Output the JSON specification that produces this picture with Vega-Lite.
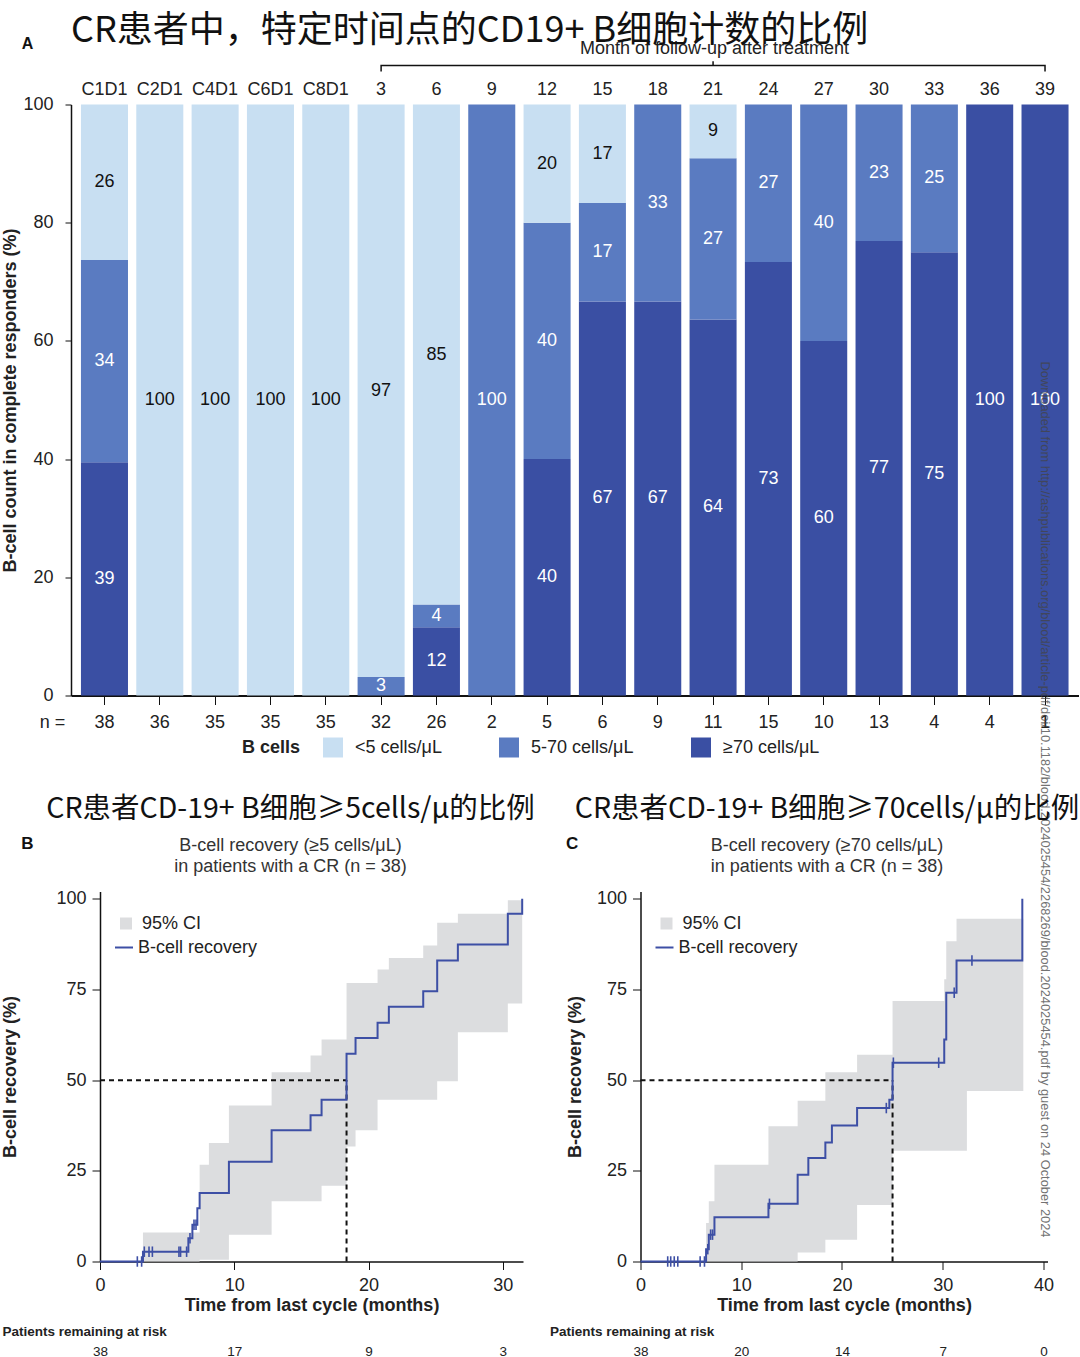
{
  "$schema": "https://vega.github.io/schema/vega-lite/v6.json",
  "background": "white",
  "padding": {"left": 1, "top": 12.5, "right": 0, "bottom": 0},
  "config": {
    "view": {"stroke": null},
    "font": "Liberation Sans",
    "axis": {"grid": false, "labelFont": "Liberation Sans", "titleFont": "Liberation Sans", "labelColor": "#222", "titleColor": "#222", "domainColor": "#111", "tickColor": "#111", "labelFontSize": 18, "titleFontSize": 18},
    "legend": {"labelFont": "Liberation Sans", "titleFont": "Liberation Sans", "labelFontSize": 18, "titleFontSize": 18, "labelColor": "#222", "titleColor": "#222", "padding": 0},
    "title": {"font": "Noto Sans CJK SC", "fontWeight": "normal", "color": "#111"}
  },
  "datasets": {
    "bars": [
      {"visit": "C1D1", "n": 38, "cat": "≥70 cells/μL", "ord": 1, "pct": 39.47},
      {"visit": "C1D1", "n": 38, "cat": "5-70 cells/μL", "ord": 2, "pct": 34.21},
      {"visit": "C1D1", "n": 38, "cat": "<5 cells/μL", "ord": 3, "pct": 26.32},
      {"visit": "C2D1", "n": 36, "cat": "<5 cells/μL", "ord": 3, "pct": 100},
      {"visit": "C4D1", "n": 35, "cat": "<5 cells/μL", "ord": 3, "pct": 100},
      {"visit": "C6D1", "n": 35, "cat": "<5 cells/μL", "ord": 3, "pct": 100},
      {"visit": "C8D1", "n": 35, "cat": "<5 cells/μL", "ord": 3, "pct": 100},
      {"visit": "3", "n": 32, "cat": "5-70 cells/μL", "ord": 2, "pct": 3.13},
      {"visit": "3", "n": 32, "cat": "<5 cells/μL", "ord": 3, "pct": 96.87},
      {"visit": "6", "n": 26, "cat": "≥70 cells/μL", "ord": 1, "pct": 11.54},
      {"visit": "6", "n": 26, "cat": "5-70 cells/μL", "ord": 2, "pct": 3.85},
      {"visit": "6", "n": 26, "cat": "<5 cells/μL", "ord": 3, "pct": 84.61},
      {"visit": "9", "n": 2, "cat": "5-70 cells/μL", "ord": 2, "pct": 100},
      {"visit": "12", "n": 5, "cat": "≥70 cells/μL", "ord": 1, "pct": 40},
      {"visit": "12", "n": 5, "cat": "5-70 cells/μL", "ord": 2, "pct": 40},
      {"visit": "12", "n": 5, "cat": "<5 cells/μL", "ord": 3, "pct": 20},
      {"visit": "15", "n": 6, "cat": "≥70 cells/μL", "ord": 1, "pct": 66.67},
      {"visit": "15", "n": 6, "cat": "5-70 cells/μL", "ord": 2, "pct": 16.67},
      {"visit": "15", "n": 6, "cat": "<5 cells/μL", "ord": 3, "pct": 16.66},
      {"visit": "18", "n": 9, "cat": "≥70 cells/μL", "ord": 1, "pct": 66.67},
      {"visit": "18", "n": 9, "cat": "5-70 cells/μL", "ord": 2, "pct": 33.33},
      {"visit": "21", "n": 11, "cat": "≥70 cells/μL", "ord": 1, "pct": 63.64},
      {"visit": "21", "n": 11, "cat": "5-70 cells/μL", "ord": 2, "pct": 27.27},
      {"visit": "21", "n": 11, "cat": "<5 cells/μL", "ord": 3, "pct": 9.09},
      {"visit": "24", "n": 15, "cat": "≥70 cells/μL", "ord": 1, "pct": 73.33},
      {"visit": "24", "n": 15, "cat": "5-70 cells/μL", "ord": 2, "pct": 26.67},
      {"visit": "27", "n": 10, "cat": "≥70 cells/μL", "ord": 1, "pct": 60},
      {"visit": "27", "n": 10, "cat": "5-70 cells/μL", "ord": 2, "pct": 40},
      {"visit": "30", "n": 13, "cat": "≥70 cells/μL", "ord": 1, "pct": 76.92},
      {"visit": "30", "n": 13, "cat": "5-70 cells/μL", "ord": 2, "pct": 23.08},
      {"visit": "33", "n": 4, "cat": "≥70 cells/μL", "ord": 1, "pct": 75},
      {"visit": "33", "n": 4, "cat": "5-70 cells/μL", "ord": 2, "pct": 25},
      {"visit": "36", "n": 4, "cat": "≥70 cells/μL", "ord": 1, "pct": 100},
      {"visit": "39", "n": 1, "cat": "≥70 cells/μL", "ord": 1, "pct": 100}
    ],
    "km5": [
      {"t": 0, "p": 0}, {"t": 3.2, "p": 2.7}, {"t": 6.58, "p": 6.4}, {"t": 6.88, "p": 10.1}, {"t": 7.25, "p": 14.7},
      {"t": 7.42, "p": 18.9}, {"t": 9.6, "p": 27.5}, {"t": 12.78, "p": 36.2}, {"t": 15.68, "p": 40.3}, {"t": 16.5, "p": 44.6},
      {"t": 18.36, "p": 57.3}, {"t": 19.03, "p": 61.6}, {"t": 20.67, "p": 65.8}, {"t": 21.51, "p": 70.2}, {"t": 24.07, "p": 74.5},
      {"t": 25.11, "p": 83.0}, {"t": 26.65, "p": 87.4}, {"t": 30.37, "p": 95.9}, {"t": 31.44, "p": 100}
    ],
    "cen5": [
      {"t": 2.78, "p": 0}, {"t": 3.1, "p": 0}, {"t": 3.3, "p": 2.7}, {"t": 3.65, "p": 2.7}, {"t": 3.9, "p": 2.7},
      {"t": 5.88, "p": 2.7}, {"t": 6.0, "p": 2.7}, {"t": 6.45, "p": 2.7}, {"t": 6.7, "p": 6.4}, {"t": 7.0, "p": 10.1}, {"t": 7.15, "p": 10.1}
    ],
    "ci5": [
      {"t": 3.2, "lo": 0, "hi": 8.0}, {"t": 7.42, "lo": 0.5, "hi": 26.7}, {"t": 8.11, "lo": 0.5, "hi": 32.7},
      {"t": 9.6, "lo": 7.4, "hi": 43.0}, {"t": 12.78, "lo": 16.6, "hi": 52.2}, {"t": 15.68, "lo": 16.6, "hi": 56.8},
      {"t": 16.5, "lo": 20.9, "hi": 61.2}, {"t": 18.36, "lo": 31.7, "hi": 76.8}, {"t": 19.03, "lo": 36.2, "hi": 76.8},
      {"t": 20.67, "lo": 44.6, "hi": 80.5}, {"t": 21.51, "lo": 44.6, "hi": 83.7}, {"t": 24.07, "lo": 44.6, "hi": 87.1},
      {"t": 25.11, "lo": 49.7, "hi": 93.4}, {"t": 26.65, "lo": 63.2, "hi": 95.9}, {"t": 30.37, "lo": 71.1, "hi": 99.6},
      {"t": 31.44, "lo": 71.1, "hi": 99.6}
    ],
    "med5": [
      {"x": 0, "y": 50, "x2": 18.36, "y2": 50}, {"x": 18.36, "y": 0, "x2": 18.36, "y2": 50}
    ],
    "km70": [
      {"t": 0, "p": 0}, {"t": 6.51, "p": 3.4}, {"t": 6.78, "p": 7.4}, {"t": 7.34, "p": 12.2}, {"t": 12.7, "p": 15.9},
      {"t": 15.6, "p": 23.9}, {"t": 16.66, "p": 28.5}, {"t": 18.35, "p": 32.8}, {"t": 19.0, "p": 37.5}, {"t": 21.5, "p": 42.3},
      {"t": 24.7, "p": 44.6}, {"t": 25.02, "p": 54.8}, {"t": 30.15, "p": 61.2}, {"t": 30.35, "p": 74.1}, {"t": 31.37, "p": 83.0},
      {"t": 37.9, "p": 100}
    ],
    "cen70": [
      {"t": 2.7, "p": 0}, {"t": 3.0, "p": 0}, {"t": 3.35, "p": 0}, {"t": 3.7, "p": 0}, {"t": 5.92, "p": 0}, {"t": 6.35, "p": 0},
      {"t": 6.68, "p": 3.4}, {"t": 6.96, "p": 7.4}, {"t": 7.15, "p": 7.4}, {"t": 12.8, "p": 15.9}, {"t": 24.4, "p": 42.3},
      {"t": 25.1, "p": 54.8}, {"t": 29.6, "p": 54.8}, {"t": 31.14, "p": 74.1}, {"t": 32.9, "p": 83.0}
    ],
    "ci70": [
      {"t": 6.51, "lo": 0, "hi": 10.6}, {"t": 6.78, "lo": 0, "hi": 16.6}, {"t": 7.34, "lo": 0, "hi": 26.7},
      {"t": 12.7, "lo": 0, "hi": 37.3}, {"t": 15.6, "lo": 2.5, "hi": 44.3}, {"t": 18.35, "lo": 6.0, "hi": 52.2},
      {"t": 21.5, "lo": 15.6, "hi": 57.0}, {"t": 25.02, "lo": 30.5, "hi": 71.8}, {"t": 30.15, "lo": 30.5, "hi": 77.8},
      {"t": 30.35, "lo": 30.5, "hi": 88.3}, {"t": 31.37, "lo": 30.5, "hi": 94.5}, {"t": 32.4, "lo": 47.0, "hi": 94.5},
      {"t": 38.0, "lo": 47.0, "hi": 94.5}
    ],
    "med70": [
      {"x": 0, "y": 50, "x2": 25.02, "y2": 50}, {"x": 25.02, "y": 0, "x2": 25.02, "y2": 50}
    ]
  },
  "align": "none",
  "spacing": -443,
  "resolve": {"scale": {"color": "independent", "fill": "independent", "stroke": "independent"}, "legend": {"color": "independent", "fill": "independent", "stroke": "independent"}},
  "vconcat": [
    {
      "width": 979,
      "height": 591,
      "title": {"text": "CR患者中，特定时间点的CD19+ B细胞计数的比例", "anchor": "start", "frame": "group", "dx": -29, "font": "Noto Sans CJK SC", "fontSize": 36, "fontWeight": "normal", "color": "#111", "offset": -14},
      "layer": [
        {
          "data": {"name": "bars"},
          "transform": [{"stack": "pct", "groupby": ["visit"], "sort": [{"field": "ord", "order": "ascending"}], "as": ["v0", "v1"]}],
          "mark": {"type": "bar"},
          "encoding": {
            "x": {"field": "visit", "type": "nominal",
              "scale": {"domain": ["C1D1", "C2D1", "C4D1", "C6D1", "C8D1", "3", "6", "9", "12", "15", "18", "21", "24", "27", "30", "33", "36", "39"], "range": [-29, 978.5], "paddingInner": 0.15, "paddingOuter": 0.18},
              "axis": {"orient": "top", "title": "Month of follow-up after treatment", "titleFontWeight": "normal", "titleX": 614, "titleY": -56, "titleBaseline": "middle", "labelAngle": 0, "ticks": false, "domain": false, "labelPadding": 6}},
            "y": {"field": "v1", "type": "quantitative", "scale": {"domain": [0, 100], "nice": false},
              "axis": {"values": [0, 20, 40, 60, 80, 100], "offset": 29, "title": "B-cell count in complete responders (%)", "titleFontWeight": "bold", "tickSize": 6, "labelPadding": 12, "titlePadding": 3, "domainWidth": 1.5}},
            "y2": {"field": "v0"},
            "color": {"field": "cat", "type": "nominal",
              "scale": {"domain": ["<5 cells/μL", "5-70 cells/μL", "≥70 cells/μL"], "range": ["#c8dff2", "#5a7bc1", "#3a4fa3"]},
              "legend": {"orient": "none", "direction": "horizontal", "legendX": 142, "legendY": 633, "title": "B cells", "titleOrient": "left", "titleFontWeight": "bold", "titlePadding": 22, "titleBaseline": "middle", "titleAnchor": "middle", "symbolType": "square", "symbolSize": 400, "symbolStrokeWidth": 0, "labelOffset": 12, "columnPadding": 57}}
          }
        },
        {
          "data": {"name": "bars"},
          "transform": [
            {"stack": "pct", "groupby": ["visit"], "sort": [{"field": "ord", "order": "ascending"}], "as": ["v0", "v1"]},
            {"calculate": "(datum.v0 + datum.v1) / 2", "as": "mid"}
          ],
          "mark": {"type": "text", "fontSize": 18, "font": "Liberation Sans", "baseline": "middle"},
          "encoding": {
            "x": {"field": "visit", "type": "nominal",
              "axis": {"orient": "bottom", "labelExpr": "['38','36','35','35','35','32','26','2','5','6','9','11','15','10','13','4','4','1'][indexof(['C1D1','C2D1','C4D1','C6D1','C8D1','3','6','9','12','15','18','21','24','27','30','33','36','39'], datum.value)]", "labelAngle": 0, "tickSize": 9, "labelPadding": 9, "domainWidth": 2, "title": "n =", "titleFontWeight": "normal", "titleX": -48, "titleY": 27, "titleBaseline": "middle", "titleAlign": "center"}},
            "y": {"field": "mid", "type": "quantitative"},
            "text": {"field": "pct", "type": "quantitative", "format": ".0f"},
            "color": {"condition": {"test": "datum.cat === '<5 cells/μL'", "value": "#111"}, "value": "#ffffff"}
          }
        },
        {
          "data": {"values": [
            {"visit": "3", "yv": 105.6, "ord": 1}, {"visit": "3", "yv": 106.6, "ord": 2}, {"visit": "21", "yv": 106.6, "ord": 3},
            {"visit": "21", "yv": 107.3, "ord": 4}, {"visit": "21", "yv": 106.6, "ord": 5}, {"visit": "39", "yv": 106.6, "ord": 6},
            {"visit": "39", "yv": 105.6, "ord": 7}]},
          "mark": {"type": "line", "color": "#111", "strokeWidth": 1.5},
          "encoding": {
            "x": {"field": "visit", "type": "nominal", "axis": null},
            "y": {"field": "yv", "type": "quantitative"},
            "order": {"field": "ord", "type": "quantitative"}
          }
        },
        {
          "data": {"values": [{}]},
          "mark": {"type": "text", "text": "A", "fontSize": 16, "fontWeight": "bold", "dx": -77, "color": "#111", "baseline": "middle"},
          "encoding": {"x": {"datum": "C1D1", "type": "nominal", "axis": null}, "y": {"datum": 110.3, "type": "quantitative"}}
        },
        {
          "data": {"values": [{}]},
          "mark": {"type": "text", "text": "B", "fontSize": 17, "fontWeight": "bold", "dx": -77, "color": "#111", "baseline": "middle"},
          "encoding": {"x": {"datum": "C1D1", "type": "nominal", "axis": null}, "y": {"datum": -25.2, "type": "quantitative"}}
        },
        {
          "data": {"values": [{}]},
          "mark": {"type": "text", "text": "C", "fontSize": 17, "fontWeight": "bold", "dx": 25, "color": "#111", "baseline": "middle"},
          "encoding": {"x": {"datum": "12", "type": "nominal", "axis": null}, "y": {"datum": -25.2, "type": "quantitative"}}
        },
        {
          "data": {"values": [{}]},
          "mark": {"type": "text", "text": "Downloaded from http://ashpublications.org/blood/article-pdf/doi/10.1182/blood.2024025454/2268269/blood.2024025454.pdf by guest on 24 October 2024", "angle": 90, "fontSize": 12.85, "font": "Liberation Sans", "color": "#444", "opacity": 0.75, "align": "center", "baseline": "middle"},
          "encoding": {"x": {"datum": "39", "type": "nominal", "axis": null}, "y": {"datum": -17.6, "type": "quantitative"}}
        }
      ],
      "resolve": {"axis": {"x": "independent"}}
    },
    {
      "spacing": 14.5,
      "resolve": {"scale": {"color": "independent", "fill": "independent", "stroke": "independent"}, "legend": {"color": "independent", "fill": "independent", "stroke": "independent"}},
      "hconcat": [
        {
          "width": 423,
          "height": 370,
          "title": {"text": "CR患者CD-19+ B细胞≥5cells/μ的比例", "subtitle": ["B-cell recovery (≥5 cells/μL)", "in patients with a CR (n = 38)"], "anchor": "middle", "frame": "group", "font": "Noto Sans CJK SC", "fontSize": 28.5, "fontWeight": "normal", "color": "#111", "subtitleFont": "Liberation Sans", "subtitleFontSize": 18, "subtitleColor": "#333", "subtitleLineHeight": 21, "subtitlePadding": 13, "offset": 14, "dx": -21},
          "layer": [
            {
              "data": {"name": "ci5"},
              "mark": {"type": "area", "interpolate": "step-after"},
              "encoding": {
                "x": {"field": "t", "type": "quantitative", "scale": {"domain": [0, 31.5], "nice": false, "zero": false},
                  "axis": {"orient": "bottom", "values": [0, 10, 20, 30], "title": "Time from last cycle (months)", "titleFontWeight": "bold", "tickSize": 8, "labelPadding": 7, "titlePadding": 2, "domainWidth": 1.5, "labelFlush": false}},
                "y": {"field": "lo", "type": "quantitative", "scale": {"domain": [0, 102], "nice": false},
                  "axis": {"values": [0, 25, 50, 75, 100], "title": "B-cell recovery (%)", "titleFontWeight": "bold", "tickSize": 8, "labelPadding": 6, "titlePadding": 36, "domainWidth": 1.5}},
                "y2": {"field": "hi"},
                "fill": {"datum": "95% CI", "type": "nominal", "scale": {"range": ["#dcdddf"]},
                  "legend": {"orient": "none", "legendX": 17, "legendY": 23, "title": null, "symbolType": "square", "symbolSize": 144, "symbolStrokeWidth": 0, "labelOffset": 7}}
              }
            },
            {
              "data": {"name": "med5"},
              "mark": {"type": "rule", "strokeDash": [5, 4], "color": "#111", "strokeWidth": 2},
              "encoding": {
                "x": {"field": "x", "type": "quantitative",
                  "axis": {"orient": "bottom", "values": [0, 10, 20, 30], "labelExpr": "datum.value == 0 ? '38' : datum.value == 10 ? '17' : datum.value == 20 ? '9' : '3'", "ticks": false, "domain": false, "labelPadding": 83, "labelFontSize": 13.5, "labelFlush": false, "title": "Patients remaining at risk", "titleFontSize": 13.5, "titleFontWeight": "bold", "titleX": -98, "titleY": 70, "titleAlign": "left", "titleBaseline": "middle"}},
                "x2": {"field": "x2"},
                "y": {"field": "y", "type": "quantitative"},
                "y2": {"field": "y2"}
              }
            },
            {
              "data": {"name": "km5"},
              "mark": {"type": "line", "interpolate": "step-after", "strokeWidth": 2},
              "encoding": {
                "x": {"field": "t", "type": "quantitative", "axis": null},
                "y": {"field": "p", "type": "quantitative"},
                "stroke": {"datum": "B-cell recovery", "type": "nominal", "scale": {"range": ["#3d4fa5"]},
                  "legend": {"orient": "none", "legendX": 14, "legendY": 46, "title": null, "symbolType": "stroke", "symbolSize": 324, "symbolStrokeWidth": 2, "labelOffset": 4}}
              }
            },
            {
              "data": {"name": "cen5"},
              "mark": {"type": "point", "shape": "M0,-1L0,1", "size": 110, "filled": false, "color": "#3d4fa5", "strokeWidth": 1.6, "opacity": 1},
              "encoding": {
                "x": {"field": "t", "type": "quantitative", "axis": null},
                "y": {"field": "p", "type": "quantitative"}
              }
            }
          ],
          "resolve": {"axis": {"x": "independent"}}
        },
        {
          "width": 407,
          "height": 370,
          "title": {"text": "CR患者CD-19+ B细胞≥70cells/μ的比例", "subtitle": ["B-cell recovery (≥70 cells/μL)", "in patients with a CR (n = 38)"], "anchor": "middle", "frame": "group", "font": "Noto Sans CJK SC", "fontSize": 28.5, "fontWeight": "normal", "color": "#111", "subtitleFont": "Liberation Sans", "subtitleFontSize": 18, "subtitleColor": "#333", "subtitleLineHeight": 21, "subtitlePadding": 13, "offset": 14, "dx": -17},
          "layer": [
            {
              "data": {"name": "ci70"},
              "mark": {"type": "area", "interpolate": "step-after"},
              "encoding": {
                "x": {"field": "t", "type": "quantitative", "scale": {"domain": [0, 40.4], "nice": false, "zero": false},
                  "axis": {"orient": "bottom", "values": [0, 10, 20, 30, 40], "title": "Time from last cycle (months)", "titleFontWeight": "bold", "tickSize": 8, "labelPadding": 7, "titlePadding": 2, "domainWidth": 1.5, "labelFlush": false}},
                "y": {"field": "lo", "type": "quantitative", "scale": {"domain": [0, 102], "nice": false},
                  "axis": {"values": [0, 25, 50, 75, 100], "title": "B-cell recovery (%)", "titleFontWeight": "bold", "tickSize": 8, "labelPadding": 6, "titlePadding": 12, "domainWidth": 1.5}},
                "y2": {"field": "hi"},
                "fill": {"datum": "95% CI", "type": "nominal", "scale": {"range": ["#dcdddf"]},
                  "legend": {"orient": "none", "legendX": 17, "legendY": 23, "title": null, "symbolType": "square", "symbolSize": 144, "symbolStrokeWidth": 0, "labelOffset": 7}}
              }
            },
            {
              "data": {"name": "med70"},
              "mark": {"type": "rule", "strokeDash": [5, 4], "color": "#111", "strokeWidth": 2},
              "encoding": {
                "x": {"field": "x", "type": "quantitative",
                  "axis": {"orient": "bottom", "values": [0, 10, 20, 30, 40], "labelExpr": "datum.value == 0 ? '38' : datum.value == 10 ? '20' : datum.value == 20 ? '14' : datum.value == 30 ? '7' : '0'", "ticks": false, "domain": false, "labelPadding": 83, "labelFontSize": 13.5, "labelFlush": false, "title": "Patients remaining at risk", "titleFontSize": 13.5, "titleFontWeight": "bold", "titleX": -91, "titleY": 70, "titleAlign": "left", "titleBaseline": "middle"}},
                "x2": {"field": "x2"},
                "y": {"field": "y", "type": "quantitative"},
                "y2": {"field": "y2"}
              }
            },
            {
              "data": {"name": "km70"},
              "mark": {"type": "line", "interpolate": "step-after", "strokeWidth": 2},
              "encoding": {
                "x": {"field": "t", "type": "quantitative", "axis": null},
                "y": {"field": "p", "type": "quantitative"},
                "stroke": {"datum": "B-cell recovery", "type": "nominal", "scale": {"range": ["#3d4fa5"]},
                  "legend": {"orient": "none", "legendX": 14, "legendY": 46, "title": null, "symbolType": "stroke", "symbolSize": 324, "symbolStrokeWidth": 2, "labelOffset": 4}}
              }
            },
            {
              "data": {"name": "cen70"},
              "mark": {"type": "point", "shape": "M0,-1L0,1", "size": 110, "filled": false, "color": "#3d4fa5", "strokeWidth": 1.6, "opacity": 1},
              "encoding": {
                "x": {"field": "t", "type": "quantitative", "axis": null},
                "y": {"field": "p", "type": "quantitative"}
              }
            }
          ],
          "resolve": {"axis": {"x": "independent"}}
        }
      ]
    }
  ]
}
